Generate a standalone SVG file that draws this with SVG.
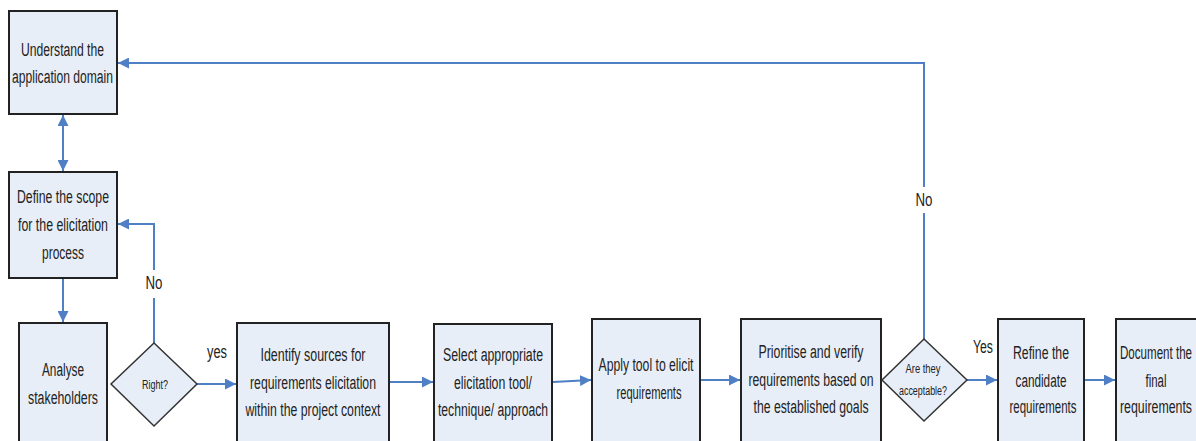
<svg xmlns="http://www.w3.org/2000/svg" width="1196" height="441" viewBox="0 0 1196 441">
<defs>
<marker id="ah" viewBox="0 0 10 10" refX="10" refY="5" markerWidth="11" markerHeight="11" markerUnits="userSpaceOnUse" orient="auto-start-reverse">
<path d="M0,0 L10,5 L0,10 z" fill="#4F7FC4"/>
</marker>
<style>
.box{fill:#E8EEF8;stroke:#222;stroke-width:2}
.dia{fill:#E8EEF8;stroke:#333;stroke-width:1.5}
.t{font-family:"Liberation Sans",Arial,sans-serif;font-size:18px;fill:#222;text-anchor:middle}
.s{font-family:"Liberation Sans",Arial,sans-serif;font-size:12px;fill:#222;text-anchor:middle}
.c{fill:none;stroke:#4F7FC4;stroke-width:2}
</style>
</defs>
<rect width="1196" height="441" fill="#fff"/>
<g id="connectors">
<path class="c" d="M924,340 V63 H118" marker-end="url(#ah)"/>
<path class="c" d="M63,115 V171" marker-start="url(#ah)" marker-end="url(#ah)"/>
<path class="c" d="M63,279 V322" marker-end="url(#ah)"/>
<path class="c" d="M154,343 V224 H118" marker-end="url(#ah)"/>
<path class="c" d="M197,384 H236" marker-end="url(#ah)"/>
<path class="c" d="M390,382 H433" marker-end="url(#ah)"/>
<path class="c" d="M553,382 L591,380" marker-end="url(#ah)"/>
<path class="c" d="M701,380 H740" marker-end="url(#ah)"/>
<path class="c" d="M967,380 H997" marker-end="url(#ah)"/>
<path class="c" d="M1085,380 H1115" marker-end="url(#ah)"/>
<rect x="912" y="187" width="24" height="26" fill="#fff"/>
<text class="t" x="924" y="206" textLength="17" lengthAdjust="spacingAndGlyphs">No</text>
<rect x="142" y="270" width="24" height="28" fill="#fff"/>
<text class="t" x="154" y="289" textLength="17" lengthAdjust="spacingAndGlyphs">No</text>
<text class="t" x="217" y="358" textLength="20" lengthAdjust="spacingAndGlyphs">yes</text>
<text class="t" x="983" y="353" textLength="20" lengthAdjust="spacingAndGlyphs">Yes</text>
</g>
<g id="n1">
<rect class="box" x="9" y="11" width="108" height="103"/>
<text class="t" x="62.5" y="56" textLength="83" lengthAdjust="spacingAndGlyphs">Understand the</text>
<text class="t" x="62.5" y="83" textLength="101" lengthAdjust="spacingAndGlyphs">application domain</text>
</g>
<g id="n2">
<rect class="box" x="9" y="172" width="108" height="106"/>
<text class="t" x="63" y="203" textLength="92" lengthAdjust="spacingAndGlyphs">Define the scope</text>
<text class="t" x="63" y="231" textLength="90" lengthAdjust="spacingAndGlyphs">for the elicitation</text>
<text class="t" x="63" y="259" textLength="42" lengthAdjust="spacingAndGlyphs">process</text>
</g>
<g id="n3">
<rect class="box" x="19" y="323" width="88" height="125"/>
<text class="t" x="63" y="376" textLength="42" lengthAdjust="spacingAndGlyphs">Analyse</text>
<text class="t" x="63" y="404" textLength="70" lengthAdjust="spacingAndGlyphs">stakeholders</text>
</g>
<g id="d1">
<polygon class="dia" points="154,343 197,384 154,426 111,384"/>
<text class="s" x="155" y="389" textLength="26" lengthAdjust="spacingAndGlyphs">Right?</text>
</g>
<g id="n4">
<rect class="box" x="237" y="323" width="152" height="125"/>
<text class="t" x="313" y="361" textLength="105" lengthAdjust="spacingAndGlyphs">Identify sources for</text>
<text class="t" x="313" y="389" textLength="126" lengthAdjust="spacingAndGlyphs">requirements elicitation</text>
<text class="t" x="313" y="416" textLength="135" lengthAdjust="spacingAndGlyphs">within the project context</text>
</g>
<g id="n5">
<rect class="box" x="434" y="324" width="118" height="124"/>
<text class="t" x="493" y="361" textLength="100" lengthAdjust="spacingAndGlyphs">Select appropriate</text>
<text class="t" x="493" y="389" textLength="78" lengthAdjust="spacingAndGlyphs">elicitation tool/</text>
<text class="t" x="493" y="416" textLength="110" lengthAdjust="spacingAndGlyphs">technique/ approach</text>
</g>
<g id="n6">
<rect class="box" x="592" y="319" width="108" height="129"/>
<text class="t" x="646" y="371" textLength="95" lengthAdjust="spacingAndGlyphs">Apply tool to elicit</text>
<text class="t" x="649" y="399" textLength="65" lengthAdjust="spacingAndGlyphs">requirements</text>
</g>
<g id="n7">
<rect class="box" x="741" y="319" width="140" height="129"/>
<text class="t" x="811" y="358" textLength="105" lengthAdjust="spacingAndGlyphs">Prioritise and verify</text>
<text class="t" x="811" y="386" textLength="125" lengthAdjust="spacingAndGlyphs">requirements based on</text>
<text class="t" x="811" y="413" textLength="115" lengthAdjust="spacingAndGlyphs">the established goals</text>
</g>
<g id="d2">
<polygon class="dia" points="924,339 967,380 924,421 882,380"/>
<text class="s" x="923" y="373" textLength="35" lengthAdjust="spacingAndGlyphs">Are they</text>
<text class="s" x="923" y="395" textLength="48" lengthAdjust="spacingAndGlyphs">acceptable?</text>
</g>
<g id="n8">
<rect class="box" x="998" y="319" width="86" height="129"/>
<text class="t" x="1041" y="359" textLength="56" lengthAdjust="spacingAndGlyphs">Refine the</text>
<text class="t" x="1041" y="387" textLength="51" lengthAdjust="spacingAndGlyphs">candidate</text>
<text class="t" x="1043" y="413" textLength="67" lengthAdjust="spacingAndGlyphs">requirements</text>
</g>
<g id="n9">
<rect class="box" x="1116" y="319" width="84" height="129"/>
<text class="t" x="1156" y="359" textLength="72" lengthAdjust="spacingAndGlyphs">Document the</text>
<text class="t" x="1156" y="387" textLength="21" lengthAdjust="spacingAndGlyphs">final</text>
<text class="t" x="1156" y="413" textLength="72" lengthAdjust="spacingAndGlyphs">requirements</text>
</g>
</svg>
